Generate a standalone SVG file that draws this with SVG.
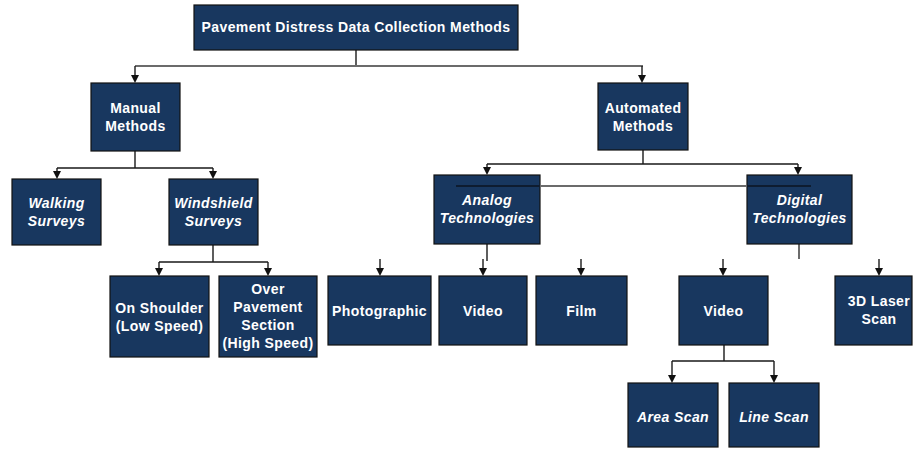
<svg xmlns="http://www.w3.org/2000/svg" width="914" height="449" viewBox="0 0 914 449">
  <style>
    .box { fill: #18375f; stroke: #111; stroke-width: 1.2; }
    .t { fill: #fff; font-family: "Liberation Sans", Arial, sans-serif; font-weight: bold; font-size: 14px; text-anchor: middle; letter-spacing: 0.4px; }
    .i { font-style: italic; }
    .c { fill: none; stroke: #1a1a1a; stroke-width: 1.4; }
    .g { fill: none; stroke: #6b6b6b; stroke-width: 2; }
  </style>
  <rect width="914" height="449" fill="#fff"/>

  <!-- connectors -->
  <g id="connectors">
    <path class="c" d="M356,50 V66"/>
    <path class="g" d="M135,66 H643"/>
    <path class="c" d="M135,66 V75"/>
    <path class="c" d="M642,66 V75"/>
    <path class="c" d="M135,151 V168 M57,168 H213"/>
    <path class="c" d="M57,168 V171"/>
    <path class="c" d="M213,168 V171"/>
    <path class="c" d="M213,245 V262 M159,262 H268"/>
    <path class="c" d="M159,262 V268"/>
    <path class="c" d="M268,262 V268"/>
    <path class="c" d="M643,150 V164 M487,164 H798"/>
    <path class="c" d="M487,164 V167"/>
    <path class="c" d="M798,164 V167"/>
    <path class="c" d="M487,244 V261"/>
    <path class="c" d="M380,259 V268"/>
    <path class="c" d="M483,259 V268"/>
    <path class="c" d="M581,259 V268"/>
    <path class="c" d="M723,259 V268"/>
    <path class="g" d="M799,244 V259"/>
    <path class="c" d="M879,259 V268"/>
    <path class="c" d="M724,345 V361 M672,361 H774"/>
    <path class="c" d="M672,361 V375"/>
    <path class="c" d="M774,361 V375"/>
  </g>
  <g id="arrowheads" fill="#111">
    <path d="M131,75 h8 l-4,8 z"/>
    <path d="M638,75 h8 l-4,8 z"/>
    <path d="M53,171 h8 l-4,8 z"/>
    <path d="M209,171 h8 l-4,8 z"/>
    <path d="M155,268 h8 l-4,8 z"/>
    <path d="M264,268 h8 l-4,8 z"/>
    <path d="M483,167 h8 l-4,8 z"/>
    <path d="M794,167 h8 l-4,8 z"/>
    <path d="M376,268 h8 l-4,8 z"/>
    <path d="M479,268 h8 l-4,8 z"/>
    <path d="M577,268 h8 l-4,8 z"/>
    <path d="M719,268 h8 l-4,8 z"/>
    <path d="M875,268 h8 l-4,8 z"/>
    <path d="M668,375 h8 l-4,8 z"/>
    <path d="M770,375 h8 l-4,8 z"/>
  </g>

  <g id="root">
    <rect class="box" x="194" y="5" width="324" height="45"/>
    <text class="t" x="356" y="32" font-size="15" letter-spacing="0.5">Pavement Distress Data Collection Methods</text>
  </g>
  <g id="manual">
    <rect class="box" x="91" y="83" width="89" height="68"/>
    <text class="t" x="135.5" y="113">Manual</text>
    <text class="t" x="135.5" y="131">Methods</text>
  </g>
  <g id="automated">
    <rect class="box" x="598" y="83" width="90" height="67"/>
    <text class="t" x="643" y="113">Automated</text>
    <text class="t" x="643" y="131">Methods</text>
  </g>
  <g id="walking">
    <rect class="box" x="12" y="179" width="89" height="66"/>
    <text class="t i" x="56.5" y="208">Walking</text>
    <text class="t i" x="56.5" y="226">Surveys</text>
  </g>
  <g id="windshield">
    <rect class="box" x="169" y="179" width="89" height="66"/>
    <text class="t i" x="213.5" y="208">Windshield</text>
    <text class="t i" x="213.5" y="226">Surveys</text>
  </g>
  <g id="on-shoulder">
    <rect class="box" x="110" y="276" width="99" height="81"/>
    <text class="t" x="159.5" y="313">On Shoulder</text>
    <text class="t" x="159.5" y="331">(Low Speed)</text>
  </g>
  <g id="over-pavement">
    <rect class="box" x="219" y="276" width="98" height="81"/>
    <text class="t" x="268" y="294">Over</text>
    <text class="t" x="268" y="312">Pavement</text>
    <text class="t" x="268" y="330">Section</text>
    <text class="t" x="268" y="348">(High Speed)</text>
  </g>
  <g id="analog">
    <rect class="box" x="434" y="175" width="106" height="69"/>
    <text class="t i" x="487" y="205">Analog</text>
    <text class="t i" x="487" y="223">Technologies</text>
  </g>
  <g id="digital">
    <rect class="box" x="747" y="175" width="105" height="69"/>
    <text class="t i" x="799.5" y="205">Digital</text>
    <text class="t i" x="799.5" y="223">Technologies</text>
  </g>
  <!-- bar across the technology row: grey between boxes, dark where it crosses them -->
  <g id="tech-bar" fill="none" stroke-width="2">
    <path d="M540,186 H747" stroke="#6b6b6b"/>
    <path d="M456,186 H540 M747,186 H811" stroke="#0e1c30"/>
  </g>
  <g id="photographic">
    <rect class="box" x="328" y="276" width="103" height="69"/>
    <text class="t" x="379.5" y="316">Photographic</text>
  </g>
  <g id="analog-video">
    <rect class="box" x="439" y="276" width="88" height="69"/>
    <text class="t" x="483" y="316">Video</text>
  </g>
  <g id="film">
    <rect class="box" x="536" y="276" width="91" height="69"/>
    <text class="t" x="581.5" y="316">Film</text>
  </g>
  <g id="digital-video">
    <rect class="box" x="679" y="276" width="89" height="69"/>
    <text class="t" x="723.5" y="316">Video</text>
  </g>
  <g id="laser">
    <rect class="box" x="835" y="276" width="77" height="69"/>
    <text class="t" x="879" y="306">3D Laser</text>
    <text class="t" x="879" y="324">Scan</text>
  </g>
  <g id="area-scan">
    <rect class="box" x="628" y="383" width="90" height="64"/>
    <text class="t i" x="673" y="422">Area Scan</text>
  </g>
  <g id="line-scan">
    <rect class="box" x="729" y="383" width="90" height="64"/>
    <text class="t i" x="774" y="422">Line Scan</text>
  </g>
</svg>
